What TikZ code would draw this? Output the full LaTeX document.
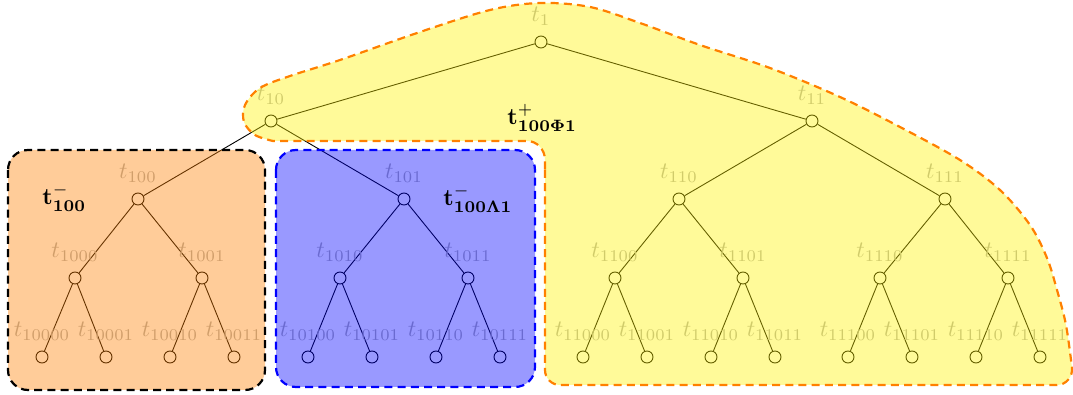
\documentclass[tikz,border=0pt]{standalone}
\usetikzlibrary{calc}
\begin{document}
\begin{tikzpicture}[x=0.5pt,y=-0.5pt,
  tn/.style={circle,draw=black,line width=0.45pt,inner sep=0pt,minimum size=6pt},
  edge/.style={draw=black,line width=0.45pt},
  lbl/.style={text=black!30,inner sep=0pt,anchor=base,scale=1.175},
  big/.style={text=black,inner sep=0pt,anchor=base west,scale=1.175},
  region/.style={line width=1.1pt,dash pattern=on 4pt off 2.6pt,fill opacity=0.4,draw opacity=1},
]
\useasboundingbox (0,0) rectangle (1073,395);

% tree
\node[tn] (n1) at (541,42) {};
\foreach \n/\p/\x/\y in {10/1/271/121, 11/1/812/121,
  100/10/138/199, 101/10/404/199, 110/11/679/199, 111/11/945/199,
  1000/100/75/278, 1001/100/202/278, 1010/101/340/278, 1011/101/468/278,
  1100/110/615/278, 1101/110/743/278, 1110/111/880/278, 1111/111/1008/278,
  10000/1000/42/357, 10001/1000/106/357, 10010/1001/170/357, 10011/1001/234/357,
  10100/1010/308/357, 10101/1010/372/357, 10110/1011/436/357, 10111/1011/500/357,
  11000/1100/583/357, 11001/1100/647/357, 11010/1101/711/357, 11011/1101/775/357,
  11100/1110/848/357, 11101/1110/912/357, 11110/1111/976/357, 11111/1111/1040/357}{
  \node[tn] (n\n) at (\x,\y) {};
  \draw[edge] (n\p) -- (n\n);
}
\foreach \n in {1,10,11,100,101,110,111,1000,1001,1010,1011,1100,1101,1110,1111,
  10000,10001,10010,10011,10100,10101,10110,10111,
  11000,11001,11010,11011,11100,11101,11110,11111}{
  \node[lbl] (l\n) at ($(n\n)+(0,-20)$) {$t_{\n}$};
}

% regions
\path[region,draw=black,fill=orange,rounded corners=10pt] (8,150) rectangle (265,390);
\path[region,draw=blue,fill=blue,rounded corners=10pt] (276,150) rectangle (535,387);
\path[region,draw=orange,fill=yellow]
  (545,170) -- (545,370) to[out=-90,in=180] (560,385) -- (1057,385)
  to[out=0,in=-85] (1072,368)
  -- plot[smooth,tension=0.55] coordinates {(1072,368) (1066,325) (1057,290) (1047,258)
     (1030,225) (1000,190) (960,160) (900,127) (840,97) (770,68) (700,45) (640,23)
     (590,7) (540,3) (490,10) (420,32) (340,60) (290,76) (260,88) (245,105)
     (244,122) (255,135) (273,141)}
  -- (527,141) to[out=0,in=90] (545,160) -- cycle;

% set labels
\node[big] (a) at (42,205) {$\mathbf{t}^{-}_{\mathbf{100}}$};
\node[big] (b) at (443,206) {$\mathbf{t}^{-}_{\mathbf{100\Lambda1}}$};
\node[big] (c) at (507,125) {$\mathbf{t}^{+}_{\mathbf{100\Phi1}}$};
\end{tikzpicture}
\end{document}
